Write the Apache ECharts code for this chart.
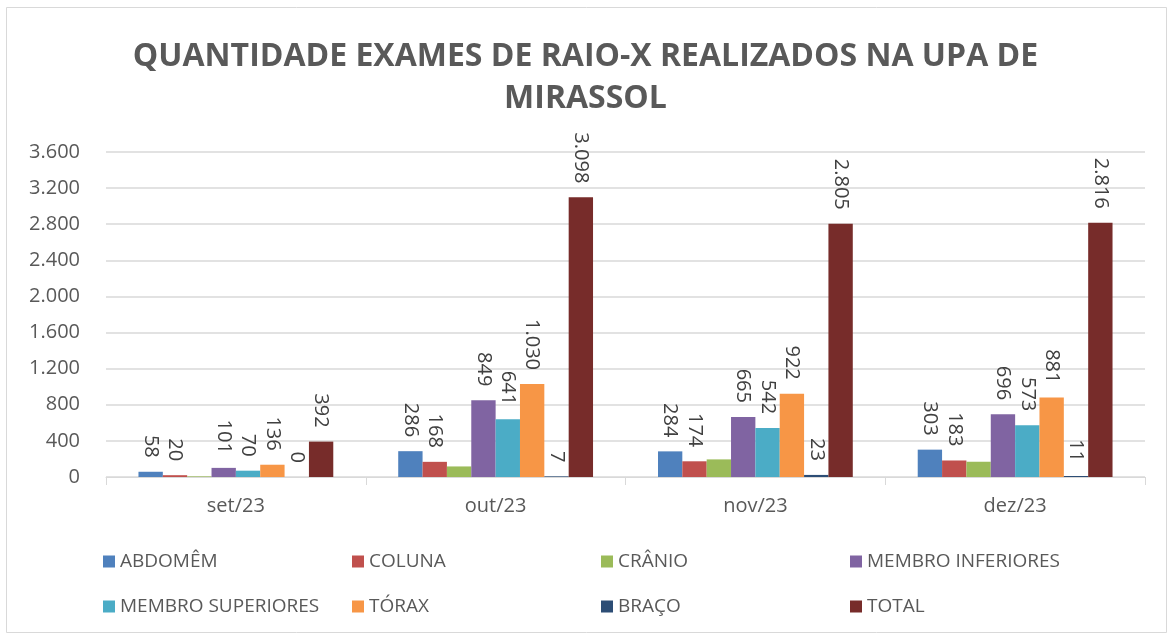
<!DOCTYPE html>
<html>
<head>
<meta charset="utf-8">
<script src="https://cdn.jsdelivr.net/npm/echarts@6/dist/echarts.min.js"></script>
<style>
  html, body { margin: 0; padding: 0; background: #fff; }
  #chart { width: 1171px; height: 635px; }
</style>
</head>
<body>
<div id="chart"></div>
<script>
const categories = ["set/23", "out/23", "nov/23", "dez/23"];
const abdomem = [58, 286, 284, 303];
const coluna = [20, 168, 174, 183];
const cranio = [7, 117, 195, 169];
const membroInferiores = [101, 849, 665, 696];
const membroSuperiores = [70, 641, 542, 573];
const torax = [136, 1030, 922, 881];
const braco = [0, 7, 23, 11];
const total = [392, 3098, 2805, 2816];

const seriesNames = [
  "ABDOMÊM", "COLUNA", "CRÂNIO", "MEMBRO INFERIORES",
  "MEMBRO SUPERIORES", "TÓRAX", "BRAÇO", "TOTAL",
];

const FONT = "'Open Sans', 'Noto Sans', sans-serif";
const TEXT = "#595959";

// formato pt-BR: 3.098
function fmt(v) {
  return String(v).replace(/\B(?=(\d{3})+(?!\d))/g, ".");
}

function barSeries(name, data, color, showLabel) {
  return {
    name: name,
    type: "bar",
    data: data,
    barGap: "0%",
    barCategoryGap: "25%",
    itemStyle: { color: color },
    label: {
      show: showLabel,
      position: "top",
      rotate: -90,
      align: "right",
      verticalAlign: "middle",
      distance: 14,
      color: "#404040",
      fontFamily: FONT,
      fontSize: 20,
      formatter: (p) => fmt(p.value),
    },
  };
}

// legenda em grade 4 x 2, uma legenda por item
const legends = seriesNames.map((name, i) => ({
  data: [name],
  left: 98 + (i % 4) * 249,
  top: i < 4 ? 547 : 592,
  itemWidth: 12,
  itemHeight: 12,
  icon: "rect",
  textStyle: {
    color: TEXT,
    fontFamily: FONT,
    fontSize: 19,
  },
}));

const myChart = echarts.init(document.getElementById("chart"));

myChart.setOption({
  animation: false,
  backgroundColor: "#fff",
  graphic: [
    {
      type: "rect",
      shape: { x: 6.5, y: 7.5, width: 1160, height: 625 },
      style: { fill: "none", stroke: "#d9d9d9", lineWidth: 1 },
      silent: true,
    },
  ],
  title: {
    text: "QUANTIDADE EXAMES DE RAIO-X REALIZADOS NA UPA DE\nMIRASSOL",
    left: "center",
    top: 31,
    textStyle: {
      color: TEXT,
      fontFamily: FONT,
      fontWeight: "bold",
      fontSize: 32,
      lineHeight: 42,
    },
  },
  legend: legends,
  grid: {
    left: 106,
    right: 26,
    top: 152,
    bottom: 158,
    containLabel: false,
  },
  xAxis: {
    type: "category",
    data: categories,
    axisLine: { lineStyle: { color: "#d9d9d9", width: 1 } },
    axisTick: { show: true, length: 8, lineStyle: { color: "#d9d9d9" } },
    axisLabel: {
      color: TEXT,
      fontFamily: FONT,
      fontSize: 20,
      margin: 19,
    },
  },
  yAxis: {
    type: "value",
    min: 0,
    max: 3600,
    interval: 400,
    axisLine: { show: false },
    axisTick: { show: false },
    splitLine: { lineStyle: { color: "#d9d9d9", width: 1.5 } },
    axisLabel: {
      color: TEXT,
      fontFamily: FONT,
      fontSize: 20,
      margin: 26,
      formatter: (v) => fmt(v),
    },
  },
  series: [
    barSeries("ABDOMÊM", abdomem, "#4F81BD", true),
    barSeries("COLUNA", coluna, "#C0504D", true),
    barSeries("CRÂNIO", cranio, "#9BBB59", false),
    barSeries("MEMBRO INFERIORES", membroInferiores, "#8064A2", true),
    barSeries("MEMBRO SUPERIORES", membroSuperiores, "#4BACC6", true),
    barSeries("TÓRAX", torax, "#F79646", true),
    barSeries("BRAÇO", braco, "#2C4D75", true),
    barSeries("TOTAL", total, "#772C2A", true),
  ],
});
</script>
</body>
</html>
